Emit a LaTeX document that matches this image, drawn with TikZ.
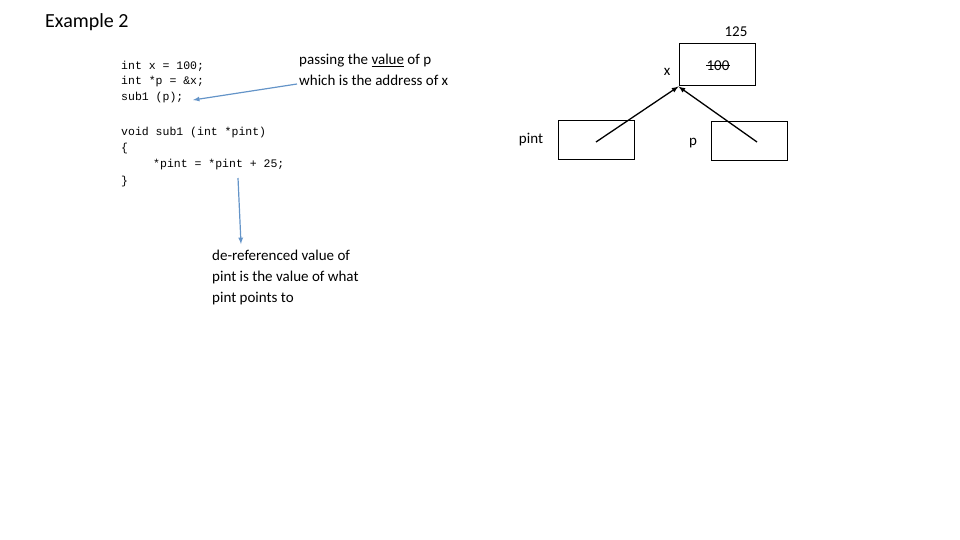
\documentclass[tikz,border=0pt]{standalone}
\usepackage{fontspec}
\setmainfont{Carlito}
\setmonofont{Liberation Mono}
\begin{document}
\begin{tikzpicture}[x=1pt,y=-1pt,
  code/.style={anchor=west,font=\ttfamily\fontsize{11.5}{16}\selectfont,inner sep=0},
  txt/.style={font=\fontsize{15}{21}\selectfont,inner sep=0},
  box/.style={draw,line width=1pt,inner sep=0},
  blue/.style={draw={rgb,255:red,100;green,148;blue,200},line width=1.2pt,-latex},
  ptr/.style={line width=1.3pt,-latex}]
\useasboundingbox (0,0) rectangle (960,540);
\node[anchor=west,font=\fontsize{20}{24}\selectfont,inner sep=0] (title) at (45,22) {Example 2};
\node[code] (c1) at (121,66) {int x = 100;};
\node[code] (c2) at (121,82) {int *p = \&x;};
\node[code] (c3) at (121,98) {sub1 (p);};
\node[code] (c4) at (121,133) {void sub1 (int *pint)};
\node[code] (c5) at (121,149) {\{};
\node[code] (c6) at (153,165) {*pint = *pint + 25;};
\node[code] (c7) at (121,182) {\}};
\node[txt,anchor=north west,align=left] (pass) at (299,54) {passing the \underline{value} of p\\which is the address of x};
\node[txt,anchor=north west,align=left] (deref) at (212,250) {de-referenced value of\\pint is the value of what\\pint points to};
\coordinate (a1s) at (297,84);
\coordinate (a1e) at (193,100);
\draw[blue] (a1s) -- (a1e);
\coordinate (a2s) at (238,178);
\coordinate (a2e) at (241,244);
\draw[blue] (a2s) -- (a2e);
\node[box,minimum width=76,minimum height=42] (bx) at (717,65) {};
\node[box,minimum width=76,minimum height=39] (bpint) at (596,140.5) {};
\node[box,minimum width=76,minimum height=39] (bp) at (749,141.5) {};
\node[txt] (v100) at (718,66) {100};
\draw[line width=1pt] (v100.west) -- (v100.east);
\node[txt] (v125) at (736,32) {125};
\node[txt] (lx) at (667,72) {x};
\node[txt] (lpint) at (531,140) {pint};
\node[txt] (lp) at (693,143) {p};
\coordinate (s1) at (596,142);
\coordinate (s2) at (757,142);
\draw[ptr] (s1) -- (bx.south west);
\draw[ptr] (s2) -- (bx.south west);
\end{tikzpicture}
\end{document}
